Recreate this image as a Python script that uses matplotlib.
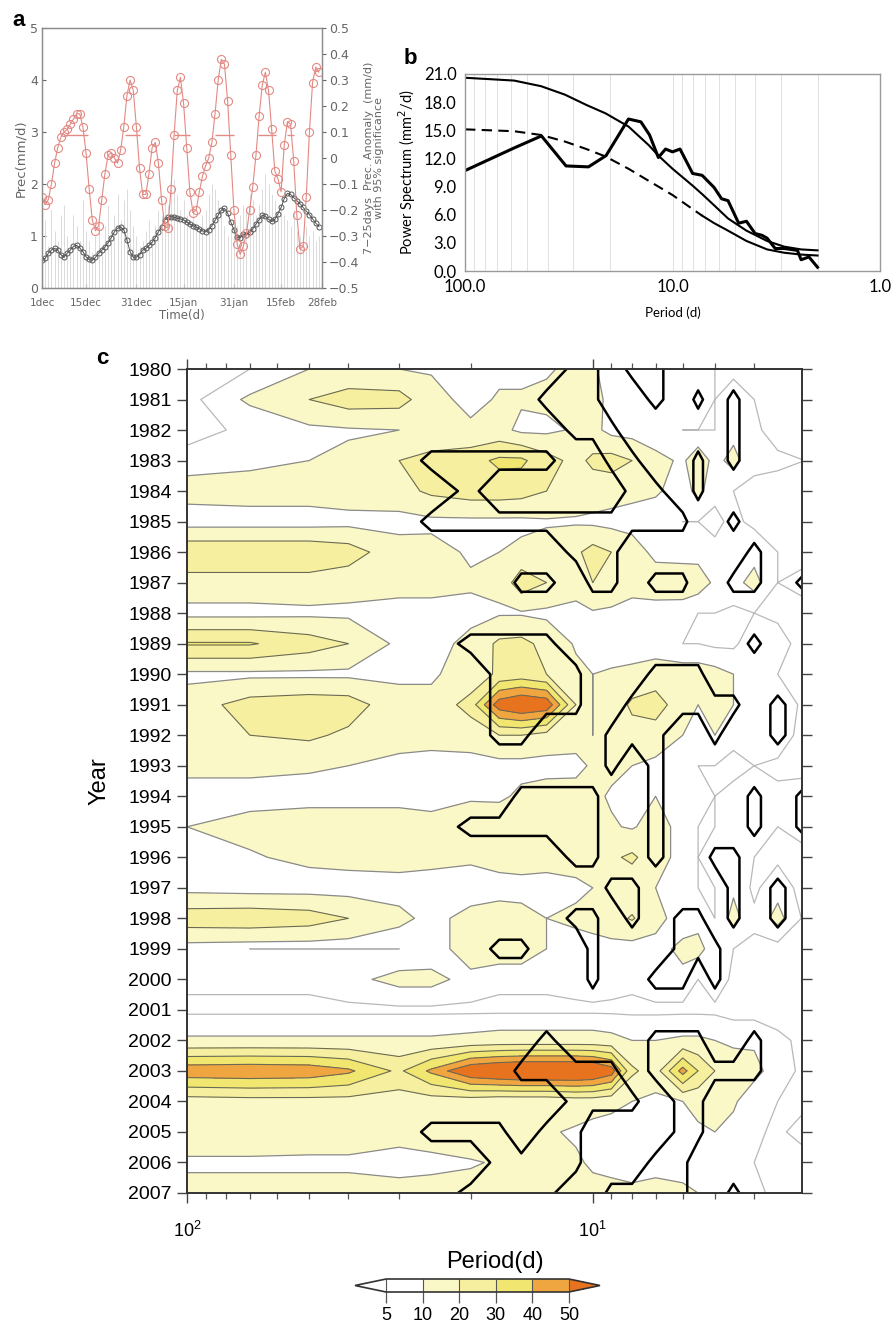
import numpy as np
import matplotlib
matplotlib.use("Agg")
import matplotlib.pyplot as plt
from matplotlib.colors import ListedColormap, BoundaryNorm
from matplotlib.cm import ScalarMappable
from matplotlib.ticker import LogLocator, NullFormatter, FixedLocator

# ---------------- panel a : daily series, 1 Dec - 28 Feb ----------------
tick_days = [0, 14, 30, 45, 61, 76, 89]
tick_names = ['1dec', '15dec', '31dec', '15jan', '31jan', '15feb', '28feb']

# 7-25 day band-passed anomaly (mm/d, right axis)
anomaly = [-0.15, -0.18, -0.16, -0.10, -0.02, 0.04, 0.08, 0.10, 0.11, 0.13,
           0.15, 0.17, 0.17, 0.12, 0.02, -0.12, -0.24, -0.28, -0.26, -0.16,
           -0.06, 0.01, 0.02, 0.00, -0.02, 0.03, 0.12, 0.24, 0.30, 0.26,
           0.12, -0.04, -0.14, -0.14, -0.06, 0.04, 0.06, -0.02, -0.16, -0.26,
           -0.27, -0.12, 0.09, 0.26, 0.31, 0.21, 0.04, -0.13, -0.21, -0.20,
           -0.13, -0.07, -0.03, 0.00, 0.06, 0.17, 0.30, 0.38, 0.36, 0.22,
           0.01, -0.20, -0.33, -0.37, -0.34, -0.29, -0.20, -0.11, 0.01, 0.16,
           0.28, 0.33, 0.26, 0.11, -0.05, -0.08, -0.13, 0.05, 0.14, 0.13,
           -0.01, -0.22, -0.35, -0.34, -0.15, 0.10, 0.29, 0.35, 0.33]

# smoothed precipitation (mm/d, left axis)
prec_smooth = [0.54, 0.57, 0.67, 0.73, 0.76, 0.73, 0.64, 0.59, 0.67, 0.73,
               0.80, 0.82, 0.77, 0.70, 0.60, 0.55, 0.53, 0.59, 0.67, 0.73,
               0.79, 0.87, 0.97, 1.08, 1.15, 1.17, 1.12, 0.92, 0.70, 0.59,
               0.59, 0.64, 0.73, 0.76, 0.82, 0.88, 0.97, 1.08, 1.18, 1.31,
               1.36, 1.37, 1.36, 1.34, 1.33, 1.31, 1.27, 1.23, 1.20, 1.17,
               1.14, 1.10, 1.08, 1.12, 1.20, 1.30, 1.40, 1.50, 1.53, 1.44,
               1.27, 1.12, 0.98, 0.97, 1.03, 1.02, 1.07, 1.14, 1.23, 1.31,
               1.40, 1.38, 1.32, 1.28, 1.32, 1.43, 1.55, 1.72, 1.82, 1.80,
               1.74, 1.68, 1.62, 1.55, 1.48, 1.41, 1.33, 1.25, 1.18]

# daily precipitation (faint bars)
prec_daily = [0.9, 1.3, 0.8, 1.5, 1.1, 0.9, 1.4, 1.6, 1.0, 0.8, 1.4, 1.2, 0.9,
              1.7, 1.1, 0.9, 0.7, 1.0, 1.3, 0.8, 1.2, 1.6, 1.1, 1.4, 1.8, 1.3,
              1.7, 1.9, 1.5, 1.2, 1.0, 0.8, 0.9, 1.1, 1.3, 1.0, 1.2, 1.5, 1.4,
              1.7, 1.6, 1.9, 2.1, 1.8, 1.5, 1.7, 1.4, 1.3, 1.6, 1.2, 1.1, 1.4,
              1.5, 1.8, 2.0, 1.9, 1.7, 1.5, 1.2, 1.0, 1.1, 1.3, 1.2, 1.4, 1.6,
              1.5, 1.8, 1.7, 1.4, 1.6, 1.9, 2.2, 2.0, 1.8, 1.7, 1.5, 1.6, 1.4,
              1.3, 1.2, 1.5, 1.1, 1.0, 0.9, 1.2, 1.0, 1.1, 0.9, 1.0]

sig_start = [7, 26.5, 42, 55, 68.5, 78]
sig_end = [14.5, 31, 47, 61, 74.5, 80]
sig_level = 0.09

# ---------------- panel b : power spectrum ----------------
spec_period = [100, 58.2, 42.8, 32.6, 25.4, 20.9, 16.3, 14.2, 12.9, 11.7, 10.8,
               10.0, 9.2, 8.0, 7.2, 6.3, 5.8, 5.4, 4.8, 4.4, 4.0, 3.7, 3.5,
               3.2, 2.9, 2.5, 2.4, 2.2, 2.0]
spec_power = [10.7, 13.1, 14.4, 11.2, 11.1, 12.3, 16.2, 15.9, 14.5, 12.1, 13.0,
              12.7, 13.0, 10.4, 10.2, 8.9, 7.7, 7.5, 5.1, 5.3, 4.0, 3.8, 3.5,
              2.4, 2.4, 2.2, 1.2, 1.5, 0.4]
fit_period = [100, 58, 43, 33, 26, 21, 16.3, 13, 11.7, 10, 8, 7.2, 6.3, 5.4,
              4.4, 3.5, 2.9, 2.4, 2.0]
upper_bound = [20.6, 20.3, 19.7, 18.8, 17.7, 16.8, 15.4, 13.4, 12.3, 10.9, 9.1,
               8.2, 7.0, 5.6, 4.3, 3.2, 2.6, 2.3, 2.2]
red_noise = [15.1, 14.9, 14.5, 13.8, 13.0, 12.2, 10.9, 9.6, 9.0, 8.1, 6.6,
             5.9, 5.1, 4.3, 3.2, 2.3, 1.95, 1.75, 1.65]

# ---------------- panel c : wavelet power by year ----------------
periods = [100, 70, 50, 40, 30, 25, 20, 17, 15, 13, 11, 10, 9, 8, 7, 6, 5.5,
           5, 4.5, 4, 3.5, 3]
years = list(range(1980, 2008))
power = [
    [3, 5, 10, 11, 10, 9, 7, 8, 8, 9, 12, 11, 7, 8, 7, 8, 6, 5, 4, 3, 3, 3],
    [3, 11, 20, 25, 24, 14, 7, 11, 11, 12, 20, 14, 7, 7, 8, 8, 8, 5, 7, 5, 3, 3],
    [3, 6, 8, 9, 10, 11, 12, 13, 8, 8, 11, 13, 7, 6, 6, 5, 5, 5, 8, 6, 3, 3],
    [7, 8, 10, 12, 20, 24, 26, 32, 32, 24, 17, 22, 24, 20, 12, 9, 14, 8, 12, 6, 6, 5],
    [13, 14, 14, 15, 16, 22, 25, 25, 24, 20, 15, 15, 14, 12, 11, 7, 12, 6, 5, 4, 3, 3],
    [6, 6, 6, 7, 7, 8, 8, 8, 8, 9, 9, 8, 7, 7, 6, 5, 5, 4, 6, 4, 3, 3],
    [28, 28, 28, 25, 14, 13, 9, 10, 12, 14, 18, 24, 20, 14, 8, 7, 8, 6, 6, 8, 5, 3],
    [16, 16, 16, 14, 12, 12, 11, 12, 26, 20, 13, 20, 18, 14, 14, 15, 13, 9, 8, 12, 5, 7],
    [7, 7, 8, 8, 8, 8, 8, 9, 9, 8, 8, 9, 8, 6, 7, 6, 5, 5, 4, 5, 4, 3],
    [31, 31, 25, 20, 8, 7, 12, 22, 23, 17, 9, 7, 6, 6, 6, 5, 5, 4, 4, 8, 7, 3],
    [8, 8, 8, 8, 8, 9, 13, 22, 24, 20, 12, 10, 11, 12, 14, 13, 13, 12, 10, 7, 5, 3],
    [14, 24, 26, 25, 14, 12, 24, 56, 62, 58, 20, 10, 13, 22, 25, 14, 10, 13, 10, 7, 8, 4],
    [14, 20, 22, 18, 13, 12, 14, 20, 20, 16, 13, 10, 14, 16, 15, 10, 8, 10, 6, 6, 8, 3],
    [12, 12, 11, 10, 8, 8, 7, 7, 7, 7, 8, 11, 12, 10, 8, 6, 5, 5, 4, 5, 4, 3],
    [7, 7, 7, 7, 7, 7, 8, 8, 12, 14, 13, 12, 9, 7, 10, 6, 6, 5, 6, 8, 6, 8],
    [10, 13, 15, 15, 15, 13, 20, 18, 15, 14, 14, 13, 11, 9, 14, 7, 5, 5, 6, 8, 5, 8],
    [7, 9, 12, 13, 13, 12, 11, 13, 14, 12, 12, 11, 18, 22, 14, 7, 5, 8, 8, 5, 4, 3],
    [7, 6, 6, 6, 7, 7, 7, 7, 7, 8, 9, 10, 12, 13, 10, 6, 5, 5, 9, 4, 8, 3],
    [26, 27, 25, 20, 12, 8, 12, 14, 13, 10, 11, 12, 16, 21, 13, 6, 8, 5, 12, 6, 12, 4],
    [6, 5, 5, 5, 5, 6, 14, 14, 14, 10, 8, 8, 7, 6, 7, 12, 12, 7, 5, 4, 3, 3],
    [6, 6, 6, 8, 12, 12, 8, 6, 6, 6, 7, 8, 7, 6, 8, 8, 5, 8, 4, 3, 3, 3],
    [4, 4, 4, 4, 4, 4, 4, 4, 4, 4, 4, 4, 4, 4, 4, 4, 4, 4, 3, 3, 3, 3],
    [11, 11, 11, 11, 11, 11, 12, 13, 13, 13, 13, 13, 12, 10, 10, 11, 11, 10, 9, 9, 6, 4],
    [47, 48, 47, 42, 28, 42, 60, 64, 66, 66, 66, 64, 56, 22, 15, 44, 30, 20, 13, 12, 7, 4],
    [15, 16, 16, 16, 15, 15, 14, 12, 12, 12, 14, 14, 12, 10, 8, 10, 12, 11, 11, 6, 5, 4],
    [14, 14, 13, 13, 13, 14, 18, 12, 11, 11, 9, 7, 7, 8, 7, 8, 9, 10, 8, 6, 4, 7],
    [9, 9, 9, 9, 7, 8, 9, 11, 11, 12, 11, 9, 8, 8, 9, 8, 9, 8, 6, 5, 4, 3],
    [12, 12, 12, 12, 13, 13, 14, 14, 13, 13, 12, 12, 12, 11, 11, 11, 10, 9, 8, 6, 4, 3],
]
# 95% significance mask (1 = significant), one string per year
signif = [
    "0000000000110110000000",
    "0000000001110010101000",
    "0000000000111000001000",
    "0000011111001100101000",
    "0000001000000110100000",
    "0000011111111111001000",
    "0000000000111000000100",
    "0000000011011011001101",
    "0000000000000000000000",
    "0000001111000000000100",
    "0000000111100011100000",
    "0000000111100111111010",
    "0000000110001110010010",
    "0000000000001010000000",
    "0000000011110010000101",
    "0000001111110010000101",
    "0000000000110010011000",
    "0000000000001100001010",
    "0000000000110101101010",
    "0000000110010001110000",
    "0000000000010011010000",
    "0000000000000000000000",
    "0000000001000011100100",
    "0000000011111011111100",
    "0000000000111101100000",
    "0000011101100001100000",
    "0000000111100011000000",
    "0000001111001111001000",
]
levels = [5, 10, 20, 30, 40, 50]
fill_colors = ['#ffffff', '#ffffff', '#fbf8c8', '#f6efa0', '#f0e670',
               '#efa540', '#e8731e']

# ======================================================================
fig = plt.figure(figsize=(8.96, 13.27), dpi=100)
W, H = 896.0, 1327.0

def box(l, t, r, b):
    return [l / W, 1 - b / H, (r - l) / W, (b - t) / H]

grey = '#666666'

# ---------------- a ----------------
axa = fig.add_axes(box(42, 28, 322, 288))
axa2 = axa.twinx()
axa.vlines(np.arange(len(prec_daily)), 0, prec_daily, color='#d4d4d4', lw=0.6)
axa.plot(np.arange(len(prec_smooth)), prec_smooth, color='#555555', lw=0.7,
         marker='o', ms=3.6, mfc='none', mew=0.7)
axa2.plot(np.arange(len(anomaly)), anomaly, color='#e38a84', lw=0.8,
          marker='o', ms=5.8, mfc='none', mew=0.8)
axa2.hlines([sig_level] * len(sig_start), sig_start, sig_end,
            color='#e38a84', lw=1.0)
axa.set_xlim(0, 89)
axa.set_ylim(0, 5)
axa2.set_ylim(-0.5, 0.5)
axa.set_xticks(tick_days)
axa.set_xticklabels(tick_names)
axa.set_yticks([0, 1, 2, 3, 4, 5])
rticks = [-0.5, -0.4, -0.3, -0.2, -0.1, 0, 0.1, 0.2, 0.3, 0.4, 0.5]
axa2.set_yticks(rticks)
axa2.set_yticklabels([f'{v:g}'.replace('-', '\u2212') for v in rticks])
axa.tick_params(axis='x', labelsize=7.5, colors=grey, length=3, direction='in', pad=7)
axa.tick_params(axis='y', labelsize=9, colors=grey, length=3, direction='in', pad=3)
axa2.tick_params(axis='y', labelsize=9, colors=grey, length=3, direction='out', pad=2)
axa.set_xlabel('Time(d)', fontsize=8.5, color=grey, labelpad=1)
axa.set_ylabel('Prec(mm/d)', fontsize=9.5, color=grey, labelpad=2)
axa2.set_ylabel('7\u221225days  Prec. Anomaly  (mm/d)\nwith 95% significance',
                fontsize=8, color=grey, rotation=90, labelpad=3,
                linespacing=1.0)
for ax in (axa, axa2):
    for s in ax.spines.values():
        s.set_color('#8c8c8c')
        s.set_linewidth(0.9)

# ---------------- b ----------------
axb = fig.add_axes(box(465, 74, 880, 271))
axb.set_xscale('log')
axb.plot(spec_period, spec_power, color='black', lw=2.2)
axb.plot(fit_period, upper_bound, color='black', lw=1.5)
axb.plot(fit_period[:12], red_noise[:12], color='black', lw=1.5,
         linestyle=(0, (5, 3)))
axb.plot(fit_period[11:], red_noise[11:], color='black', lw=1.5)
axb.set_xlim(100, 1)
axb.set_ylim(0, 21)
axb.set_yticks([0, 3, 6, 9, 12, 15, 18, 21])
axb.set_yticklabels([f'{v:.1f}' for v in [0, 3, 6, 9, 12, 15, 18, 21]])
axb.xaxis.set_major_locator(FixedLocator([100, 10, 1]))
axb.set_xticklabels(['100.0', '10.0', '1.0'])
axb.xaxis.set_minor_locator(LogLocator(base=10, subs=range(2, 10)))
axb.xaxis.set_minor_formatter(NullFormatter())
axb.grid(axis='x', which='both', color='#dcdcdc', lw=0.6)
axb.set_axisbelow(True)
axb.tick_params(which='both', length=0, labelsize=12, pad=6)
for lab in axb.get_xticklabels() + axb.get_yticklabels():
    lab.set_family('Lato')
axb.set_ylabel('Power Spectrum (mm$^2$/d)', fontsize=10.5, family='Lato', labelpad=4)
axb.set_xlabel('Period (d)', fontsize=9.5, family='Lato', labelpad=8)
for s in axb.spines.values():
    s.set_color('#9a9a9a')
    s.set_linewidth(1.0)

# ---------------- c ----------------
axc = fig.add_axes(box(187, 369, 802, 1193))
P = np.array(periods)
Y = np.array(years)
V = np.array(power, dtype=float)
S = np.array([[int(ch) for ch in row] for row in signif], dtype=float)

axc.set_xscale('log')
axc.contourf(P, Y, V, levels=[0] + levels + [100], colors=fill_colors)
axc.contour(P, Y, V, levels=[5], colors='#b8b8b8', linewidths=0.9)
axc.contour(P, Y, V, levels=[10], colors='#8a8a8a', linewidths=0.9)
axc.contour(P, Y, V, levels=levels[2:], colors='#6b6b55', linewidths=0.8)
axc.contour(P, Y, S, levels=[0.7], colors='black', linewidths=1.8)
axc.set_xlim(100, 3.05)
axc.set_ylim(2007, 1980)
axc.set_yticks(years)
axc.set_yticklabels([str(y) for y in years])
axc.xaxis.set_major_locator(LogLocator(base=10))
axc.xaxis.set_minor_locator(LogLocator(base=10, subs=range(2, 10)))
axc.xaxis.set_minor_formatter(NullFormatter())
axc.tick_params(axis='both', which='major', direction='out', length=7,
                width=1.0, color='#444444', top=True, right=True)
axc.tick_params(axis='both', which='minor', direction='out', length=4,
                width=0.9, color='#555555', top=True, right=True)
axc.tick_params(axis='y', labelsize=14, pad=4)
axc.tick_params(axis='x', labelsize=13, pad=13)
for lab in axc.get_xticklabels() + axc.get_yticklabels():
    lab.set_family('Liberation Sans')
axc.set_ylabel('Year', fontsize=17, family='Liberation Sans')
axc.yaxis.set_label_coords(-0.125, 0.5)
for s in axc.spines.values():
    s.set_color('#333333')
    s.set_linewidth(1.4)

# colorbar
cax = fig.add_axes(box(355, 1279, 600, 1292))
cmap = ListedColormap(fill_colors)
norm = BoundaryNorm(levels, cmap.N, extend='both')
cb = fig.colorbar(ScalarMappable(norm=norm, cmap=cmap), cax=cax,
                  orientation='horizontal', extend='both', extendfrac=0.17,
                  ticks=levels, drawedges=True)
cb.outline.set_linewidth(1.2)
cb.outline.set_edgecolor('#333333')
cb.dividers.set_color('#555555')
cb.dividers.set_linewidth(0.8)
cb.ax.tick_params(labelsize=13, length=8, width=0.9, color='#555555', pad=3)
for lab in cb.ax.get_xticklabels():
    lab.set_family('Liberation Sans')
fig.text(495 / W, 1 - 1262 / H, 'Period(d)', fontsize=17,
         family='Liberation Sans', ha='center', va='center')

# panel letters
fig.text(12 / W, 1 - 20 / H, 'a', fontsize=16, weight='bold',
         family='Liberation Sans', ha='left', va='center')
fig.text(404 / W, 1 - 58 / H, 'b', fontsize=16, weight='bold',
         family='Liberation Sans', ha='left', va='center')
fig.text(96 / W, 1 - 358 / H, 'c', fontsize=16, weight='bold',
         family='Liberation Sans', ha='left', va='center')

fig.savefig('out.png', dpi=100)
